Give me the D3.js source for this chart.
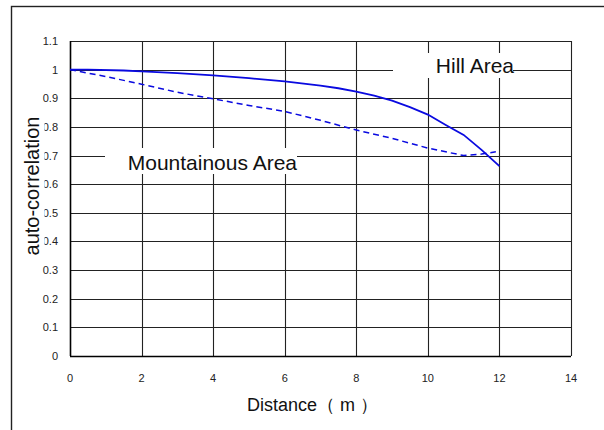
<!DOCTYPE html>
<html><head><meta charset="utf-8">
<script src="https://cdn.jsdelivr.net/npm/d3@7"></script>
<style>html,body{margin:0;padding:0;background:#fff;}svg{display:block;font-family:Arial,"Liberation Sans",sans-serif;}</style>
</head><body><svg id="c" width="604" height="430"></svg>
<script>
// Data
const hillX = [0, 0.5, 1.5, 2, 3, 4, 5, 6, 7, 7.5, 8, 8.5, 9, 9.5, 10, 10.5, 11, 11.5, 12];
const hillY = [1.0, 1.0, 0.997, 0.994, 0.988, 0.980, 0.970, 0.959, 0.944, 0.935, 0.923, 0.909, 0.892, 0.869, 0.843, 0.807, 0.772, 0.720, 0.663];
const mountX = [0, 1, 2, 3, 4, 5, 6, 7, 8, 9, 10, 11, 11.5, 11.9];
const mountY = [1.0, 0.976, 0.949, 0.921, 0.898, 0.875, 0.854, 0.823, 0.789, 0.760, 0.726, 0.700, 0.705, 0.713];
const xTicks = [0, 2, 4, 6, 8, 10, 12, 14];
const yTicks = [0, 0.1, 0.2, 0.3, 0.4, 0.5, 0.6, 0.7, 0.8, 0.9, 1, 1.1];
const xTitle = "Distance（ m ）";
const yTitle = "auto-correlation";
const hillLabel = "Hill Area";
const mountLabel = "Mountainous Area";

const svg = d3.select("#c");
const x = d3.scaleLinear().domain([0, 14]).range([70, 571]);
const y = d3.scaleLinear().domain([0, 1.1]).range([356, 41]);

// outer frame
svg.append("rect").attr("x", 11.5).attr("y", 6.5).attr("width", 620).attr("height", 440)
  .attr("fill", "none").attr("stroke", "#222").attr("stroke-width", 1.4);

// gridlines
const g = svg.append("g");
g.selectAll("line.h").data(yTicks.slice(1)).join("line")
  .attr("x1", x(0)).attr("x2", x(14)).attr("y1", d => Math.round(y(d)) + 0.5).attr("y2", d => Math.round(y(d)) + 0.5)
  .attr("stroke", "#222").attr("stroke-width", 1.1);
g.selectAll("line.v").data(xTicks.slice(1)).join("line")
  .attr("y1", y(0)).attr("y2", y(1.1)).attr("x1", d => Math.round(x(d)) + 0.5).attr("x2", d => Math.round(x(d)) + 0.5)
  .attr("stroke", "#222").attr("stroke-width", 1.1);

// axes lines
svg.append("line").attr("x1", x(0)).attr("x2", x(14)).attr("y1", Math.round(y(0)) + 0.5).attr("y2", Math.round(y(0)) + 0.5)
  .attr("stroke", "#000").attr("stroke-width", 1.6);
svg.append("line").attr("x1", Math.round(x(0)) + 0.5).attr("x2", Math.round(x(0)) + 0.5).attr("y1", y(0)).attr("y2", y(1.1))
  .attr("stroke", "#000").attr("stroke-width", 1.6);

// tick labels
svg.append("g").selectAll("text").data(yTicks).join("text")
  .attr("x", 58).attr("y", d => y(d)).attr("dy", "0.36em").attr("text-anchor", "end")
  .attr("font-size", 11).attr("fill", "#222").text(d => d);
svg.append("g").selectAll("text").data(xTicks).join("text")
  .attr("x", d => x(d)).attr("y", 382).attr("text-anchor", "middle")
  .attr("font-size", 11).attr("fill", "#222").text(d => d);

// y title with white box
svg.append("rect").attr("x", 22).attr("y", 114).attr("width", 22.5).attr("height", 144).attr("fill", "#fff");
svg.append("text").attr("transform", "translate(38.5,186) rotate(-90)").attr("text-anchor", "middle")
  .attr("font-size", 20).attr("fill", "#111").text(yTitle);

// x title
svg.append("text").attr("x", 247).attr("y", 411).attr("font-size", 18).attr("fill", "#111").text(xTitle);

// series
const line = d3.line().x(d => x(d[0])).y(d => y(d[1]));
svg.append("path").datum(mountX.map((v, i) => [v, mountY[i]])).attr("d", line)
  .attr("fill", "none").attr("stroke", "#0a0ae0").attr("stroke-width", 1.5).attr("stroke-dasharray", "6,4");
svg.append("path").datum(hillX.map((v, i) => [v, hillY[i]])).attr("d", line)
  .attr("fill", "none").attr("stroke", "#0a0ae0").attr("stroke-width", 1.8);

// annotation boxes
svg.append("rect").attr("x", 393).attr("y", 53).attr("width", 120).attr("height", 25).attr("fill", "#fff");
svg.append("text").attr("x", 514).attr("y", 73).attr("text-anchor", "end").attr("font-size", 21).attr("fill", "#111").text(hillLabel);
svg.append("rect").attr("x", 105).attr("y", 148).attr("width", 192).attr("height", 26).attr("fill", "#fff");
svg.append("text").attr("x", 297).attr("y", 170).attr("text-anchor", "end").attr("font-size", 21).attr("fill", "#111").text(mountLabel);
</script></body></html>
